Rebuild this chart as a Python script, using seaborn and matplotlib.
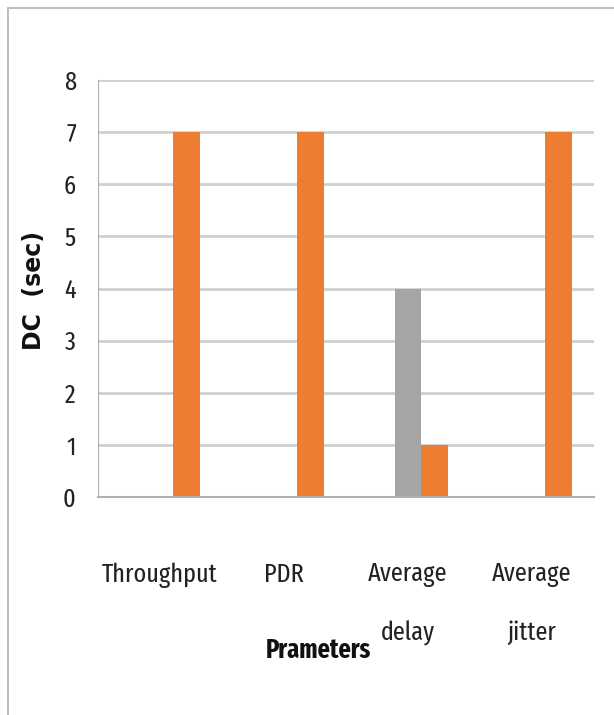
import matplotlib
matplotlib.use("Agg")
import matplotlib.pyplot as plt
import seaborn as sns
import pandas as pd
from matplotlib.lines import Line2D

categories = ["Throughput", "PDR", "Average\ndelay", "Average\njitter"]
series_names = ["Series1", "Series2", "Series3"]
series1 = [0, 0, 0, 0]
series2 = [0, 0, 4, 0]
series3 = [7, 7, 1, 7]
y_ticks = [0, 1, 2, 3, 4, 5, 6, 7, 8]

rows = []
for name, vals in zip(series_names, [series1, series2, series3]):
    for c, v in zip(categories, vals):
        rows.append({"cat": c, "series": name, "value": v})
df = pd.DataFrame(rows)

sns.set_style("white")
COND = ['Fira Sans Extra Condensed', 'DejaVu Sans']
plt.rcParams['font.family'] = COND

fig = plt.figure(figsize=(6.14, 7.15), dpi=100)
ax = fig.add_axes([98/614, 1-497/715, (594-98)/614, (497-80)/715])

sns.barplot(data=df, x="cat", y="value", hue="series", order=categories,
            hue_order=series_names,
            palette=["#4472C4", "#A5A5A5", "#ED7D31"], width=0.65,
            linewidth=0, ax=ax, legend=False, saturation=1)

ax.set_ylim(0, 8)
ax.set_xlim(-0.5, 3.5)
ax.set_yticks(y_ticks)
ax.set_yticklabels([str(t) for t in y_ticks], fontsize=19, color="#222222")
ax.yaxis.grid(True, color="#D0D0D0", linewidth=2)
ax.set_axisbelow(True)
for s in ["top", "right"]:
    ax.spines[s].set_visible(False)
ax.spines["left"].set_color("#B0B0B0")
ax.spines["bottom"].set_color("#B0B0B0")
ax.spines["bottom"].set_linewidth(1.5)
ax.tick_params(axis="y", length=5, width=2, color="#D0D0D0", pad=11)

# category labels centered, boundary tick marks
ax.set_xticks(range(len(categories)))
ax.set_xticklabels(categories, fontsize=19, linespacing=2.68, va="top",
                   color="#222222")
ax.tick_params(axis="x", length=0, pad=47)
ax.set_xticks([-0.5, 0.5, 1.5, 2.5, 3.5], minor=True)
ax.tick_params(axis="x", which="minor", length=11, width=1, color="#B0B0B0")

ax.set_xlabel("Prameters", fontsize=19, fontweight="bold", color="#111111")
ax.xaxis.set_label_coords((318-98)/496, -(658-497)/417)
ax.xaxis.label.set_va("baseline")
ax.set_ylabel("DC  (sec)", fontsize=17, fontweight="bold", color="#111111",
              family=['DejaVu Sans'])
ax.yaxis.set_label_coords((34-98)/496, (497-290)/417)
ax.yaxis.label.set_va("center")

# chart border (left and top)
fig.add_artist(Line2D([8/614, 8/614], [0, 1-8/715], color="#BFBFBF", lw=1.5))
fig.add_artist(Line2D([8/614, 1], [1-8/715, 1-8/715], color="#BFBFBF", lw=1.5))

fig.savefig("out.png", dpi=100)
